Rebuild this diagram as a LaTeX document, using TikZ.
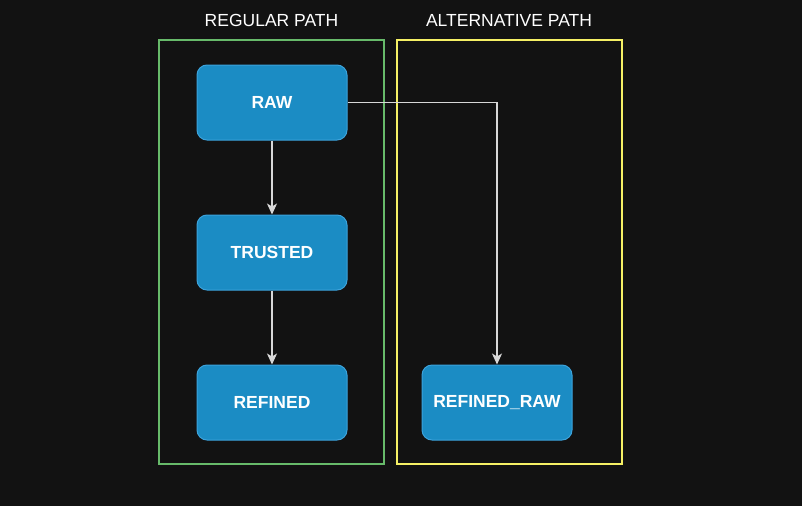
\documentclass[tikz,border=0pt]{standalone}
\usepackage{fontspec}
\setmainfont{Liberation Sans}
\usetikzlibrary{arrows.meta}
\definecolor{bg}{HTML}{121212}
\definecolor{boxfill}{HTML}{1B8CC4}
\definecolor{boxdraw}{HTML}{3CA3DC}
\definecolor{grn}{HTML}{67BA6A}
\definecolor{ylw}{HTML}{F5F065}
\definecolor{arr}{HTML}{D8D8D8}
\begin{document}
\begin{tikzpicture}[x=1pt,y=-1pt,
  stagebox/.style={draw=boxdraw,fill=boxfill,line width=1pt,rounded corners=10pt,
    minimum width=150pt,minimum height=75pt,inner sep=0pt,text=white,
    font=\fontsize{17.5}{19}\selectfont\bfseries},
  frame/.style={line width=2pt},
  title/.style={text=white,font=\fontsize{17.5}{19}\selectfont,inner sep=0pt},
  conn/.style={draw=arr,line width=1.2pt,-{Stealth[length=11pt,width=10pt,inset=3pt]}}]
\fill[bg] (0,0) rectangle (802,506);
\useasboundingbox (0,0) rectangle (802,506);
\draw[frame,grn] (159,40) rectangle (384,464);
\draw[frame,ylw] (397,40) rectangle (622,464);
\node[title] (t1) at (271.5,20) {REGULAR PATH};
\node[title] (t2) at (509,20) {ALTERNATIVE PATH};
\node[stagebox] (raw) at (272,102.5) {RAW};
\node[stagebox] (trusted) at (272,252.5) {TRUSTED};
\node[stagebox] (refined) at (272,402.5) {REFINED};
\node[stagebox] (rraw) at (497,402.5) {REFINED\_RAW};
\draw[conn] (raw) -- (trusted);
\draw[conn] (trusted) -- (refined);
\draw[conn] (raw.east) -| (rraw.north);
\end{tikzpicture}
\end{document}
